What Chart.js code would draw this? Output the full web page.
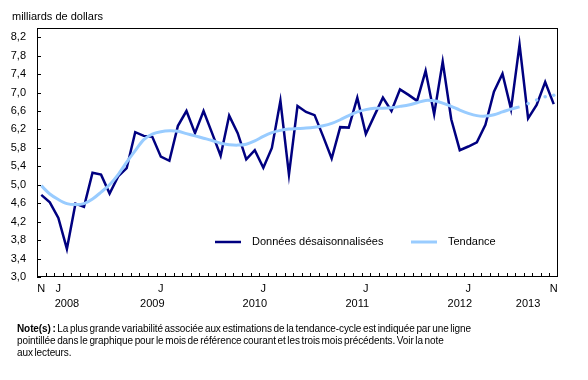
<!DOCTYPE html>
<html lang="fr">
<head>
<meta charset="utf-8">
<script src="https://cdn.jsdelivr.net/npm/chart.js@4.4.0/dist/chart.umd.min.js"></script>
<style>
  body { margin: 0; background: #fff; }
  #wrap { position: relative; width: 588px; height: 380px; }
  #note {
    position: absolute; left: 17px; top: 323px; width: 560px;
    font-family: "Liberation Sans", Arial, sans-serif; font-size: 10px;
    line-height: 12px; letter-spacing: -0.1px; word-spacing: -1px; color: #000;
  }
</style>
</head>
<body>
<div id="wrap">
  <canvas id="chart" width="588" height="380"></canvas>
  <div id="note"><b>Note(s) :</b> La plus grande variabilité associée aux estimations de la tendance-cycle est indiquée par une ligne<br>pointillée dans le graphique pour le mois de référence courant et les trois mois précédents. Voir la note<br>aux lecteurs.</div>
</div>
<script>
// données mensuelles, novembre à novembre (61 mois)
const seasonal = [
  4.78, 4.62, 4.28, 3.61, 4.59, 4.52, 5.26, 5.22, 4.81, 5.18, 5.36, 6.14,
  6.06, 6.04, 5.61, 5.52, 6.28, 6.60, 6.12, 6.60, 6.12, 5.63, 6.50, 6.12,
  5.55, 5.75, 5.37, 5.80, 6.82, 5.22, 6.71, 6.58, 6.51, 6.05, 5.57, 6.25,
  6.24, 6.89, 6.10, 6.50, 6.89, 6.60, 7.07, 6.95, 6.82, 7.47, 6.53, 7.67,
  6.42, 5.75, 5.83, 5.92, 6.30, 7.02, 7.41, 6.64, 8.04, 6.44, 6.73, 7.23,
  6.75
];
const trend = [
  4.98, 4.80, 4.68, 4.59, 4.57, 4.59, 4.69, 4.84, 5.00, 5.22, 5.49, 5.74,
  5.98, 6.10, 6.15, 6.17, 6.16, 6.11, 6.06, 6.01, 5.96, 5.90, 5.87, 5.86,
  5.88, 5.95, 6.05, 6.13, 6.18, 6.21, 6.22, 6.23, 6.25, 6.28, 6.33, 6.41,
  6.50, 6.58, 6.63, 6.66, 6.66, 6.67, 6.70, 6.73, 6.78, 6.83, 6.82, 6.77,
  6.70, 6.62, 6.55, 6.50, 6.49, 6.52, 6.58, 6.64, 6.69, 6.76, 6.84, 6.91,
  6.94
];
const yTicks = [3.0, 3.4, 3.8, 4.2, 4.6, 5.0, 5.4, 5.8, 6.2, 6.6, 7.0, 7.4, 7.8, 8.2];
const monthTickIdx = [0, 2, 14, 26, 38, 50, 60];
const monthTickText = ['N', 'J', 'J', 'J', 'J', 'J', 'N'];
const yearTickIdx = [3, 13, 25, 37, 49, 57];
const yearTickText = ['2008', '2009', '2010', '2011', '2012', '2013'];

const lastFinal = 56; // les 4 derniers points de tendance sont en pointillé

const moisAbr = ['janv.', 'févr.', 'mars', 'avr.', 'mai', 'juin', 'juil.', 'août', 'sept.', 'oct.', 'nov.', 'déc.'];
const categories = seasonal.map((v, i) => moisAbr[(10 + i) % 12] + ' ' + (2008 + Math.floor((10 + i) / 12)));

const DARK = '#000080';
const LIGHT = '#99ccff';
const FONT = '"Liberation Sans", Arial, sans-serif';

const extras = {
  id: 'extras',
  afterDraw(chart) {
    const ctx = chart.ctx;
    const a = chart.chartArea;
    const x = chart.scales.x, y = chart.scales.y;
    ctx.save();
    ctx.strokeStyle = '#000';
    ctx.lineWidth = 1;
    ctx.strokeRect(Math.round(a.left) + 0.5, Math.round(a.top) + 0.5,
      Math.round(a.right - a.left) - 1, Math.round(a.bottom - a.top) - 1);
    // petites graduations vers l'intérieur
    ctx.beginPath();
    yTicks.forEach(v => {
      const py = Math.round(y.getPixelForValue(v)) + 0.5;
      ctx.moveTo(a.left, py); ctx.lineTo(a.left + 4, py);
    });
    for (let i = 1; i < categories.length; i++) {
      const px = Math.round((x.getPixelForValue(i - 1) + x.getPixelForValue(i)) / 2) + 0.5;
      ctx.moveTo(px, a.bottom); ctx.lineTo(px, a.bottom - 4);
    }
    ctx.stroke();

    ctx.fillStyle = '#000';
    ctx.font = '11px ' + FONT;
    ctx.textBaseline = 'middle';
    ctx.fillText('milliards de dollars', 12, 17);

    // légende
    const items = [
      { label: 'Données désaisonnalisées', color: DARK, w: 2.5, x: 215 },
      { label: 'Tendance', color: LIGHT, w: 3, x: 411 }
    ];
    items.forEach(it => {
      ctx.strokeStyle = it.color;
      ctx.lineWidth = it.w;
      ctx.beginPath();
      ctx.moveTo(it.x, 242); ctx.lineTo(it.x + 26, 242);
      ctx.stroke();
      ctx.fillText(it.label, it.x + 37, 242);
    });
    ctx.restore();
  }
};

new Chart(document.getElementById('chart'), {
  type: 'line',
  data: {
    labels: categories,
    datasets: [
      {
        label: 'Données désaisonnalisées',
        data: seasonal,
        borderColor: DARK,
        borderWidth: 2.5,
        pointRadius: 0,
        tension: 0,
        order: 2
      },
      {
        label: 'Tendance',
        data: trend.map((v, i) => i <= lastFinal ? v : null),
        borderColor: LIGHT,
        borderWidth: 3,
        pointRadius: 0,
        tension: 0.3,
        spanGaps: false,
        order: 1
      },
      {
        label: 'Tendance (pointillé)',
        data: trend.map((v, i) => i > lastFinal ? v : null),
        showLine: false,
        pointRadius: 1.8,
        pointBorderWidth: 0,
        pointBackgroundColor: LIGHT,
        order: 0
      }
    ]
  },
  options: {
    responsive: false,
    animation: false,
    layout: { padding: { top: 28, right: 30, bottom: 63, left: 0 } },
    scales: {
      x: {
        type: 'category',
        offset: true,
        grid: { display: false, drawTicks: false },
        border: { display: false },
        ticks: {
          autoSkip: false,
          maxRotation: 0,
          minRotation: 0,
          padding: 4,
          color: '#000',
          font: { family: FONT, size: 11, lineHeight: 1.4 },
          callback: (val, i) => {
            const m = monthTickIdx.indexOf(i);
            const yr = yearTickIdx.indexOf(i);
            if (m < 0 && yr < 0) return '';
            return [m >= 0 ? monthTickText[m] : '', yr >= 0 ? yearTickText[yr] : ''];
          }
        },
        afterFit: scale => { scale.height = 40; }
      },
      y: {
        min: 3,
        max: 8.4,
        grid: { display: false, drawTicks: false },
        border: { display: false },
        afterBuildTicks: scale => { scale.ticks = yTicks.map(v => ({ value: v })); },
        ticks: {
          padding: 11,
          color: '#000',
          font: { family: FONT, size: 11 },
          callback: v => v.toFixed(1).replace('.', ',')
        },
        afterFit: scale => { scale.width = 37; }
      }
    },
    plugins: {
      legend: { display: false },
      tooltip: { enabled: false }
    }
  },
  plugins: [extras]
});
</script>
</body>
</html>
